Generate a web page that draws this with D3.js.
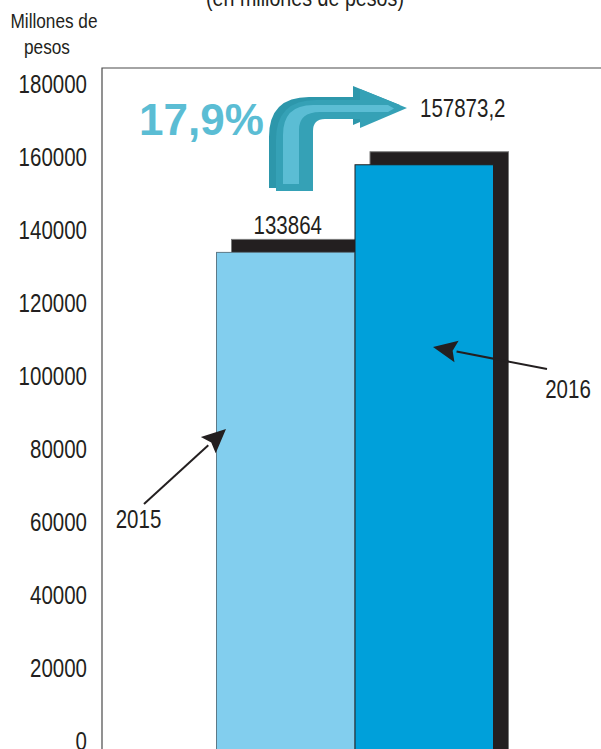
<!DOCTYPE html>
<html>
<head>
<meta charset="utf-8">
<script src="https://cdn.jsdelivr.net/npm/d3@7"></script>
<style>
  html, body { margin: 0; padding: 0; background: #fff; }
  svg { display: block; }
  .narrow { font-family: "Liberation Sans", Arial, sans-serif; fill: #231f20; }
</style>
</head>
<body>
<script>
// Ingresos por año (millones de pesos)
const years = ["2015", "2016"];
const values = [133864, 157873.2];
const valueLabels = ["133864", "157873,2"];
const tickValues = [0, 20000, 40000, 60000, 80000, 100000, 120000, 140000, 160000, 180000];
const growthLabel = "17,9%";
const barColors = ["#82ceee", "#00a0da"];
const barStrokes = ["#5d7a88", "#231f20"];

const W = 601, H = 749;
const SQUEEZE = 0.82; // horizontal squeeze giving a condensed face
const svg = d3.select("body").append("svg").attr("width", W).attr("height", H);

const y = d3.scaleLinear().domain([0, 180000]).range([741, 84]);
const x = d3.scaleBand().domain(years).range([216.5, 493.5]).padding(0);

// condensed text helper
function ntext(px, py, size, anchor, str) {
  return svg.append("text").attr("class", "narrow")
    .attr("transform", `translate(${px},${py}) scale(${SQUEEZE},1)`)
    .attr("text-anchor", anchor).attr("font-size", size).text(str);
}

// subtitle (partly above the visible area)
ntext(305, 6, 24, "middle", "(en millones de pesos)");

// axis title
ntext(54, 28, 21, "middle", "Millones de");
ntext(47, 54, 21, "middle", "pesos");

// frame of the plot area
const frameX = 102, frameTop = 68;
svg.append("path")
  .attr("d", `M${frameX},${H} L${frameX},${frameTop} L${W},${frameTop}`)
  .attr("fill", "none").attr("stroke", "#4a4a4a").attr("stroke-width", 1.2);

// y axis labels
const axis = svg.append("g").attr("transform", `translate(${frameX},0)`)
  .call(d3.axisLeft(y).tickValues(tickValues).tickSize(0).tickPadding(15).tickFormat(d3.format("d")));
axis.select(".domain").remove();
axis.selectAll("text")
  .attr("class", "narrow").attr("font-size", 25).attr("fill", "#231f20")
  .attr("x", -15 / SQUEEZE).attr("transform", `scale(${SQUEEZE},1)`);

// bars with a dark back face offset up and to the right
const dx = 15, dy = -13;
years.forEach((yr, i) => {
  const g = svg.append("g");
  g.append("rect")
    .attr("x", x(yr) + dx).attr("y", y(values[i]) + dy)
    .attr("width", x.bandwidth()).attr("height", H - (y(values[i]) + dy) + 5)
    .attr("fill", "#231f20").attr("stroke", "#7a7a7a").attr("stroke-width", 1);
  g.append("rect")
    .attr("x", x(yr)).attr("y", y(values[i]))
    .attr("width", x.bandwidth()).attr("height", H - y(values[i]) + 5)
    .attr("fill", barColors[i]).attr("stroke", barStrokes[i]).attr("stroke-width", 1);
});

// value labels
ntext(x("2015") + x.bandwidth() / 2 + 2, y(values[0]) - 18, 25, "middle", valueLabels[0]);
ntext(x("2016") + 65, y(values[1]) - 48, 25, "start", valueLabels[1]);

// growth arrow (bent, with a lighter inner stripe)
const arrowFront = "M276,191 L276,140 Q276,100 316,100 L360,100 L360,89 L407,108 L360,128 L360,119 L325,119 Q313,119 313,131 L313,191 Z";
svg.append("path").attr("d", arrowFront).attr("fill", "#2d97ab")
  .attr("transform", "translate(-7,-3)");
svg.append("path").attr("d", arrowFront).attr("fill", "#35a1b6");
svg.append("path")
  .attr("d", "M283,184 L283,135 Q283,105 313,105 L388,105 L394,108.5 L388,112 L320,112 Q299,112 299,130 L299,184 Z")
  .attr("fill", "#5bbdd4");

svg.append("text")
  .attr("x", 139).attr("y", 135)
  .attr("font-family", "'Liberation Sans', Arial, sans-serif")
  .attr("font-weight", "bold").attr("font-size", 44)
  .attr("fill", "#5bbdd4").text(growthLabel);

// year call-outs with arrows pointing at the bars
function pointer(x1, y1, x2, y2) {
  const ang = Math.atan2(y2 - y1, x2 - x1);
  const len = 24, hw = 11;
  const bx = x2 - len * Math.cos(ang), by = y2 - len * Math.sin(ang);
  svg.append("line").attr("x1", x1).attr("y1", y1).attr("x2", bx).attr("y2", by)
    .attr("stroke", "#231f20").attr("stroke-width", 2);
  const nx = -Math.sin(ang), ny = Math.cos(ang);
  const nb = 4; // slight notch at the base
  svg.append("path")
    .attr("d", `M${x2},${y2} L${bx + nx * hw},${by + ny * hw} L${bx + nb * Math.cos(ang)},${by + nb * Math.sin(ang)} L${bx - nx * hw},${by - ny * hw} Z`)
    .attr("fill", "#231f20");
}
pointer(144, 504, 226, 429);
pointer(547, 369, 433, 347);

ntext(138.5, 528, 25, "middle", years[0]);
ntext(568, 398, 25, "middle", years[1]);
</script>
</body>
</html>
